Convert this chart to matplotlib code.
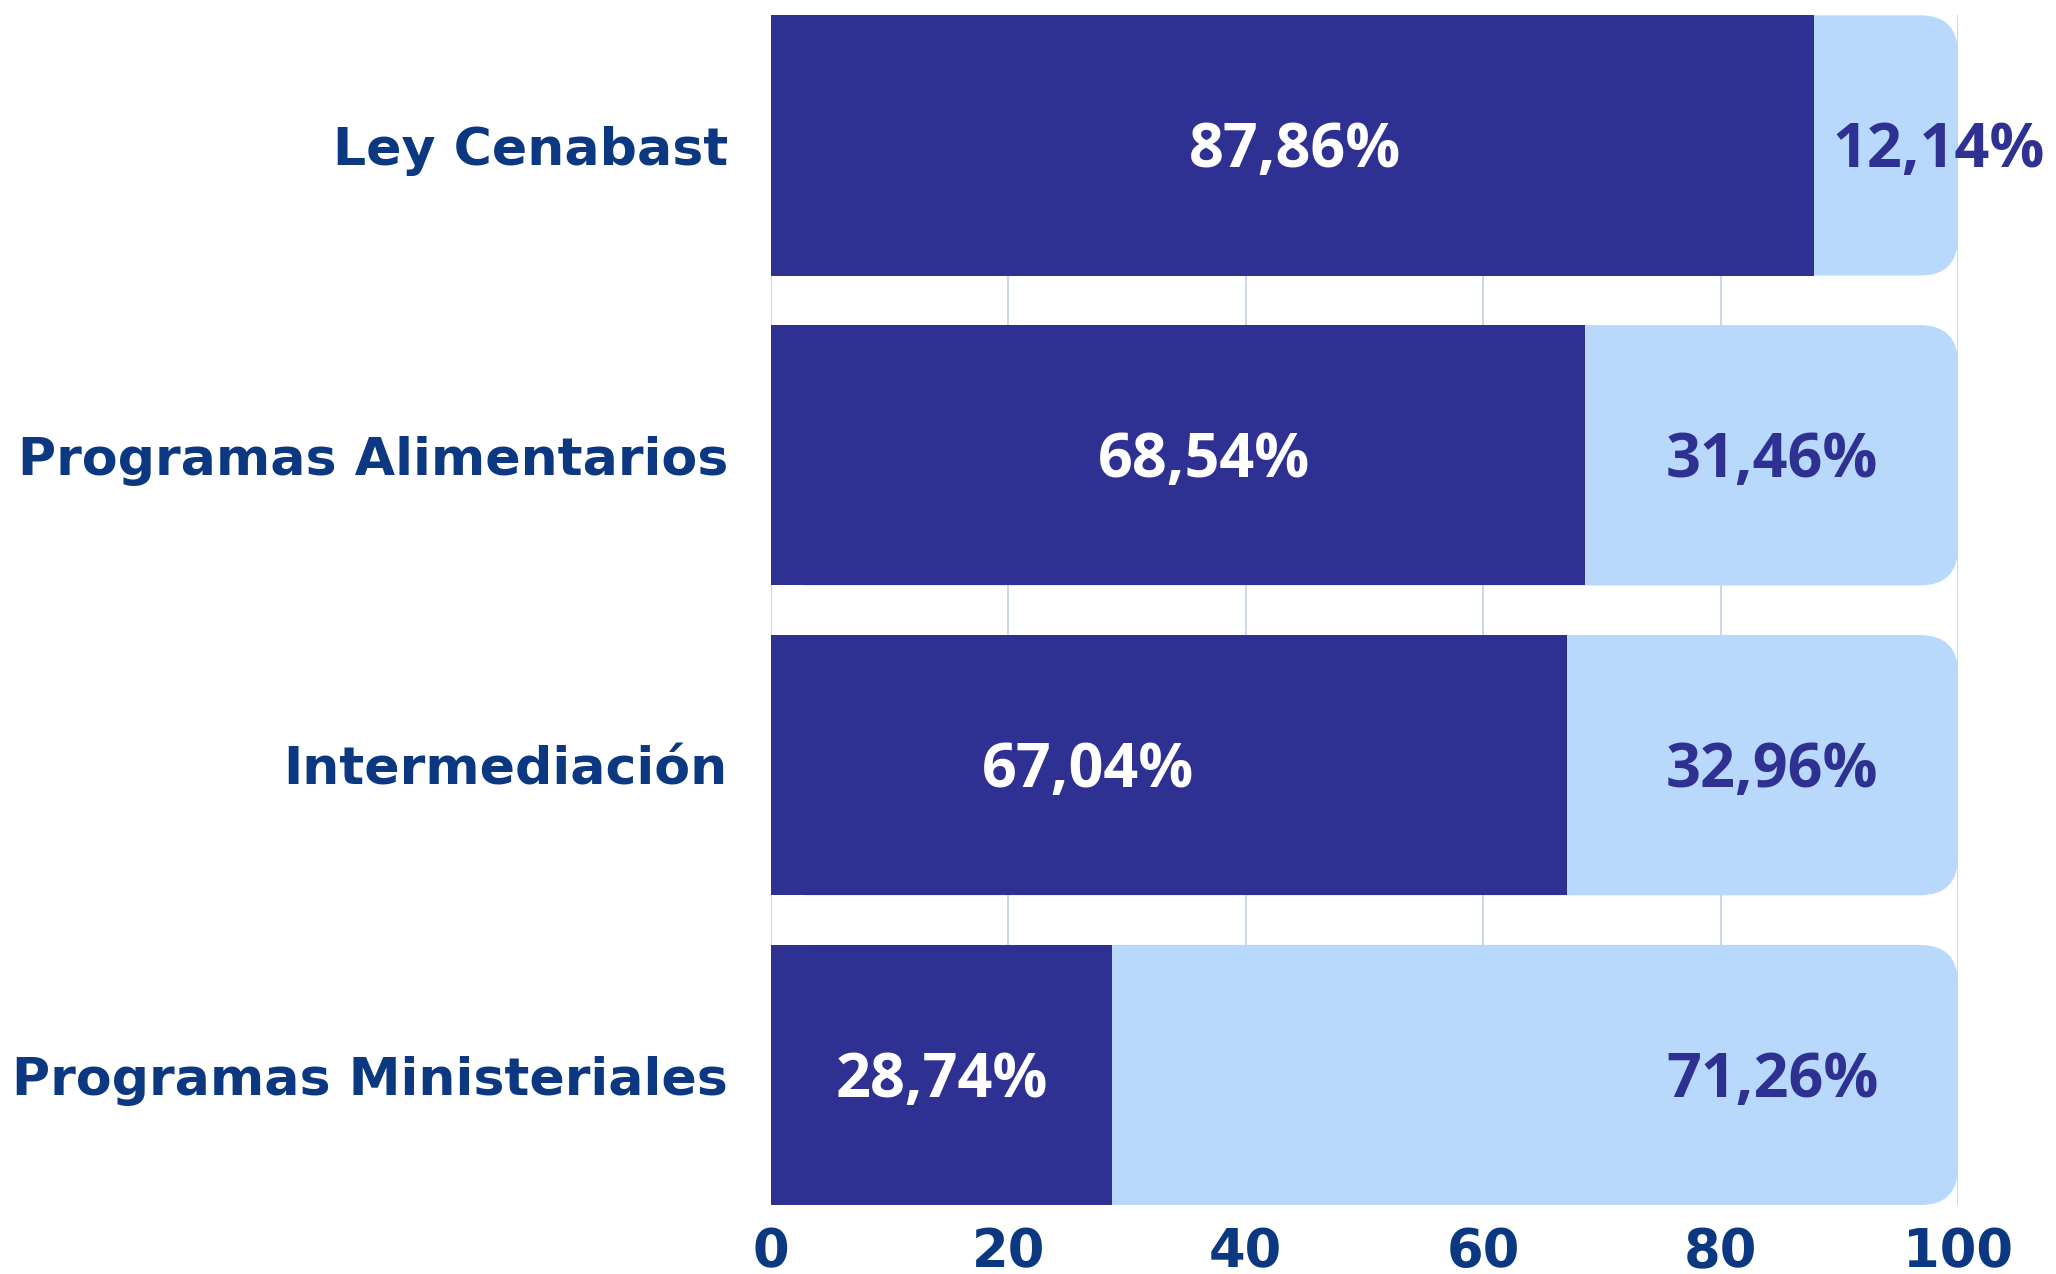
import matplotlib
matplotlib.use("Agg")
import matplotlib.pyplot as plt
from matplotlib.patches import FancyBboxPatch

categories = ["Ley Cenabast", "Programas Alimentarios", "Intermediación", "Programas Ministeriales"]
dark_values = [87.86, 68.54, 67.04, 28.74]
light_values = [12.14, 31.46, 32.96, 71.26]
dark_labels = ["87,86%", "68,54%", "67,04%", "28,74%"]
light_labels = ["12,14%", "31,46%", "32,96%", "71,26%"]
xticks = [0, 20, 40, 60, 80, 100]

# label placement tweaks (data units) observed in the reference
dark_label_offsets = [0.2, 2.2, -6.8, 0.0]

DARK = "#2E3192"
LIGHT = "#B8D8FC"
NAVY = "#0B3880"
GRID = "#C8D3EA"

fig = plt.figure(figsize=(20.56, 12.74), dpi=100)
ax = fig.add_axes([0.375, 0.054, 0.5773, 0.934])

ypos = list(range(len(categories)))
h = 0.84

light_bars = ax.barh(ypos, light_values, left=dark_values, height=h, color=LIGHT, zorder=2)
dark_bars = ax.barh(ypos, dark_values, height=h, color=DARK, zorder=3)

# rounded right end for the light (remaining) segments
px_x = 1187 / 100.0
px_y = 310.0
rad_px = 38
rx = rad_px / px_x
ry = rad_px / px_y
for b in light_bars:
    b.set_visible(False)
    x0 = 0
    w = b.get_x() + b.get_width()
    p = FancyBboxPatch((x0, b.get_y()), w, b.get_height(),
                       boxstyle=f"round,pad=0,rounding_size={rx}",
                       mutation_aspect=ry / rx, facecolor=LIGHT, edgecolor="none", zorder=2)
    ax.add_patch(p)

ax.set_xlim(0, 100)
ax.set_ylim(len(categories) - 1 + 0.42, -0.42)
ax.set_xticks(xticks)
ax.set_xticklabels([str(t) for t in xticks])
ax.set_yticks(ypos)
ax.set_yticklabels(categories)
ax.tick_params(axis="both", length=0)
ax.tick_params(axis="x", pad=15, labelsize=38, labelcolor=NAVY)
ax.tick_params(axis="y", pad=31, labelsize=37.5, labelcolor=NAVY)
for lbl in ax.get_yticklabels() + ax.get_xticklabels():
    lbl.set_fontweight("bold")
    lbl.set_family("DejaVu Sans")
for s in ax.spines.values():
    s.set_visible(False)
ax.set_axisbelow(True)
ax.xaxis.grid(True, color=GRID, lw=1.3, zorder=0)

for i, (d, l) in enumerate(zip(dark_values, light_values)):
    yy = i + 0.02
    ax.text(d / 2 + dark_label_offsets[i], yy, dark_labels[i], ha="center", va="center",
            color="white", fontsize=44, fontweight="bold", family="Open Sans", zorder=5)
    if l < 20:
        ax.text(d + 1.6, yy, light_labels[i], ha="left", va="center",
                color=DARK, fontsize=44, fontweight="bold", family="Open Sans", zorder=5)
    else:
        ax.text(100 - 6.7, yy, light_labels[i], ha="right", va="center",
                color=DARK, fontsize=44, fontweight="bold", family="Open Sans", zorder=5)

fig.savefig("out.png", dpi=100)
